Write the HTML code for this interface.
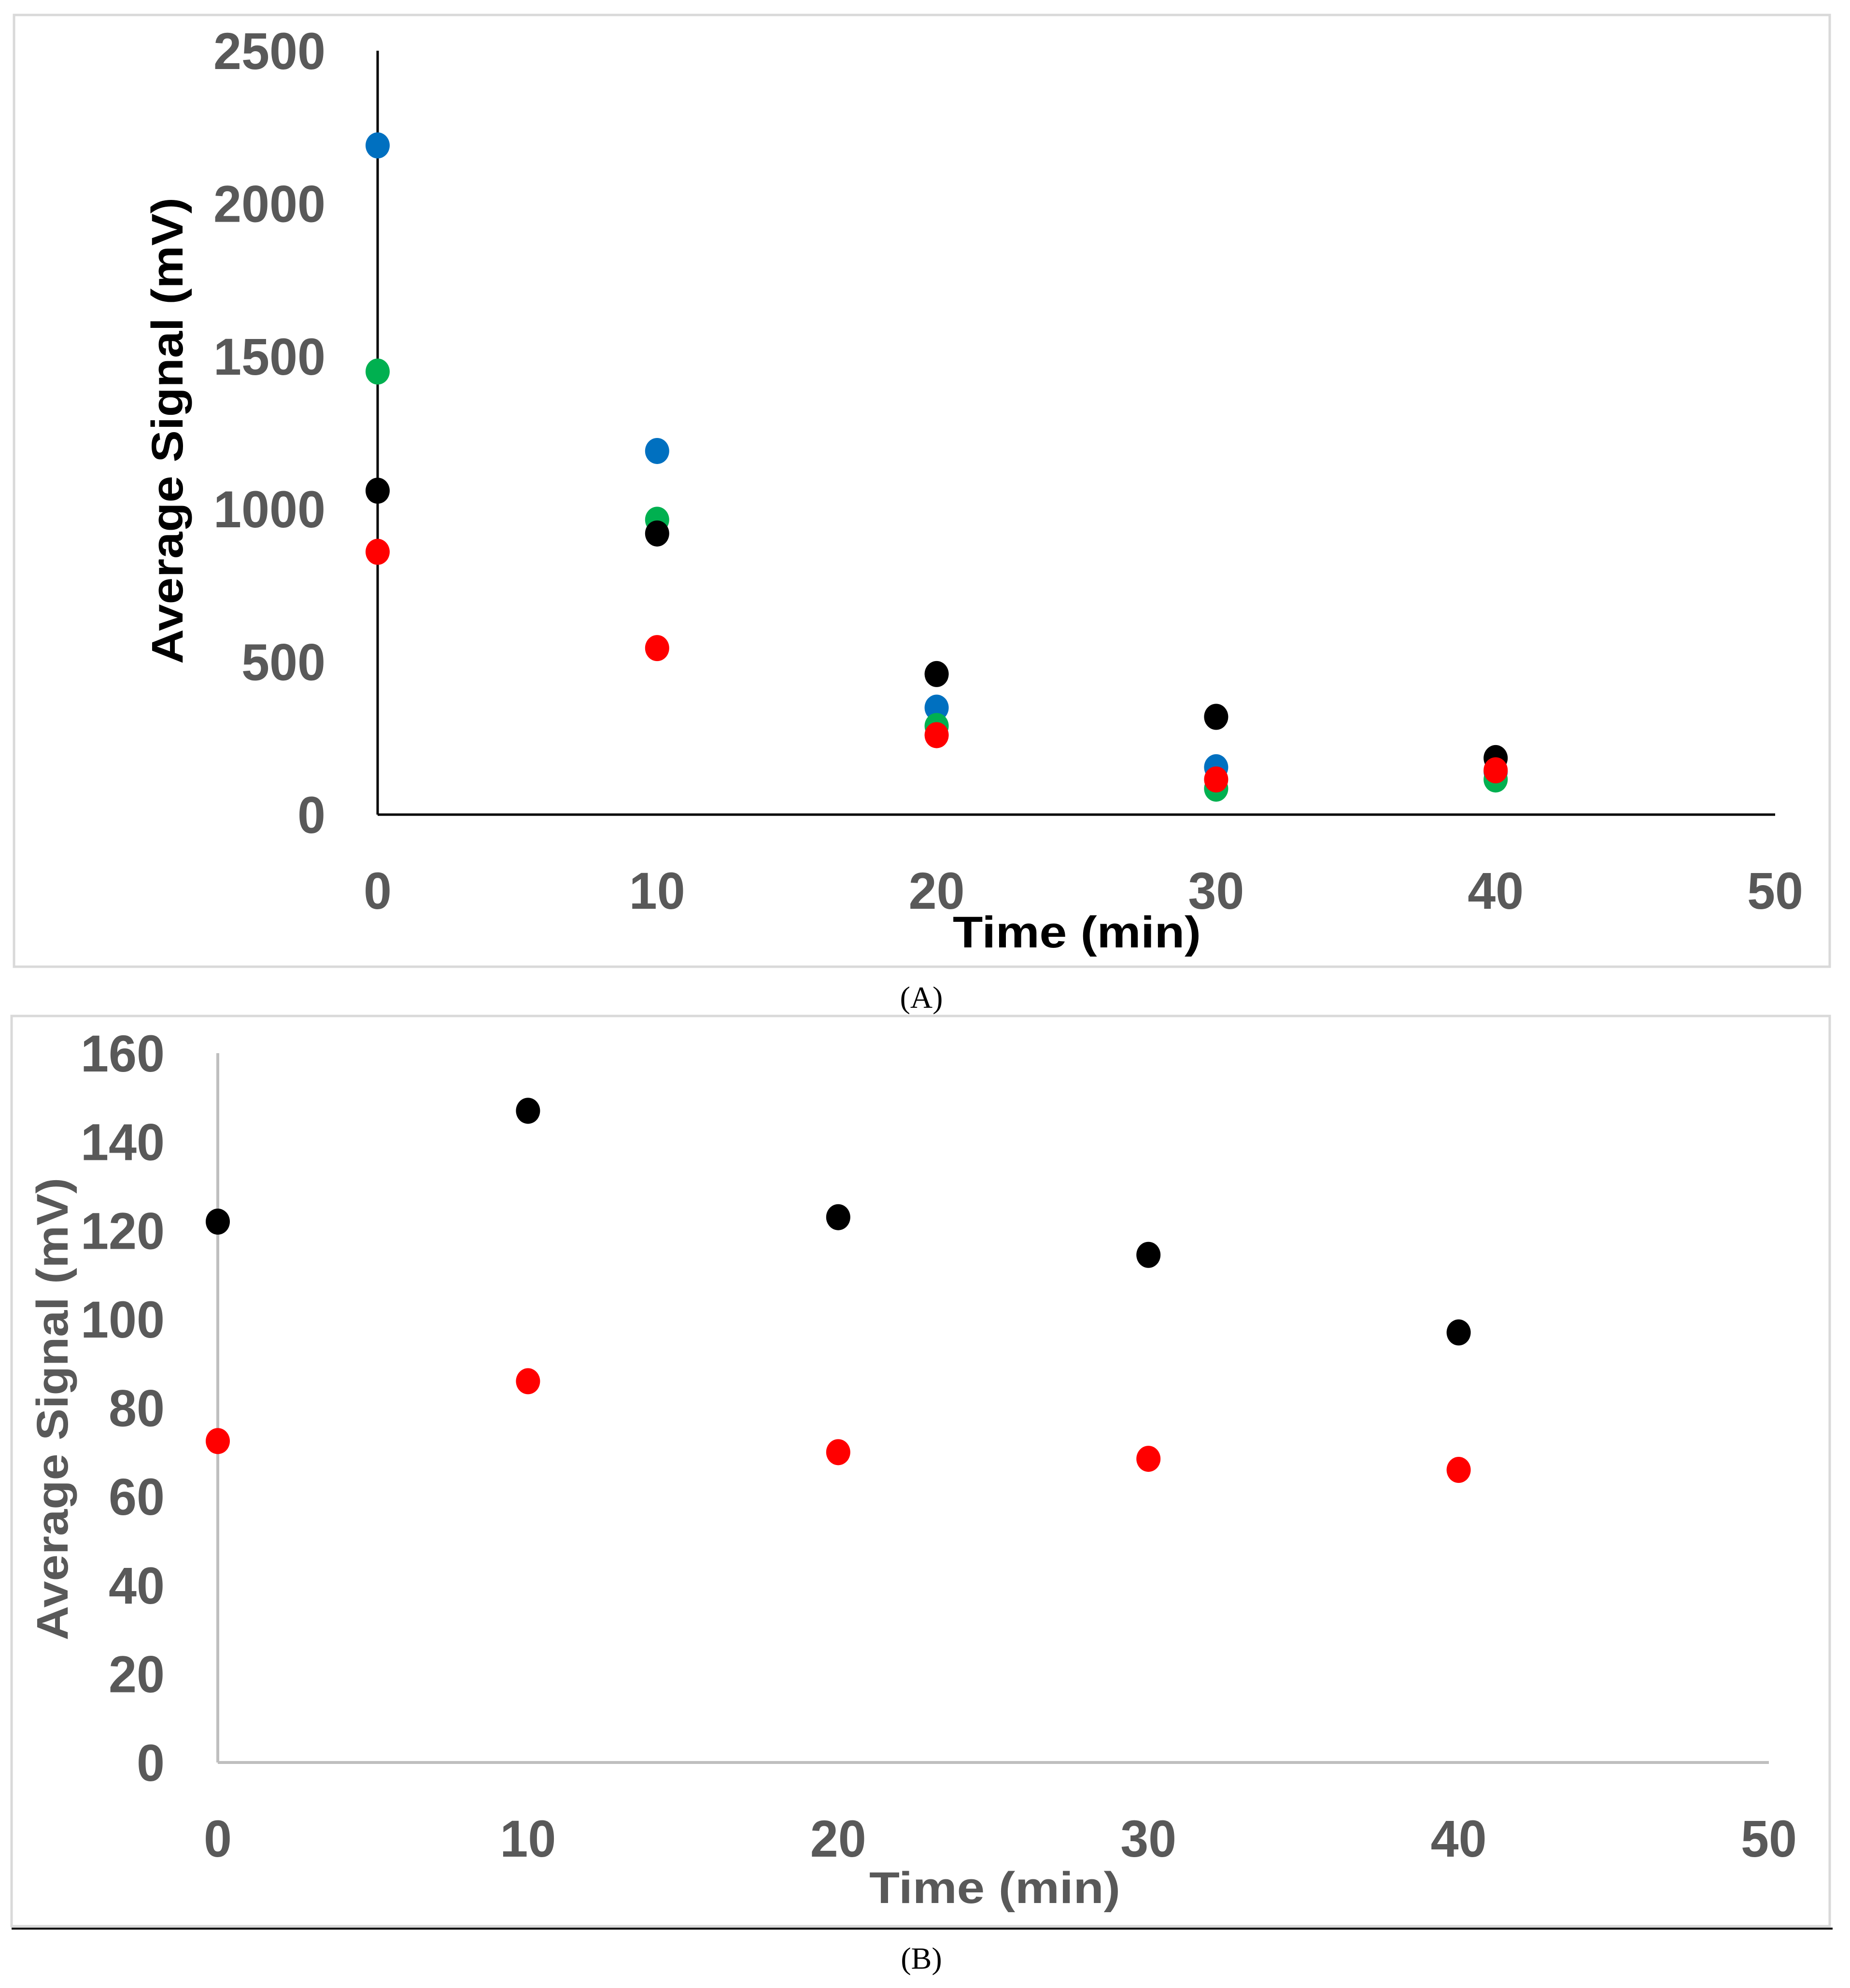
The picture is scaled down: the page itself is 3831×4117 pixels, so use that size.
<!DOCTYPE html>
<html><head><meta charset="utf-8"><style>
html,body{margin:0;padding:0;background:#fff}
svg{display:block}
.tk{font-family:"Liberation Sans",sans-serif;font-weight:bold;font-size:108px;fill:#595959}
.ttl{font-family:"Liberation Sans",sans-serif;font-weight:bold;font-size:92px}
.cap{font-family:"Liberation Serif",serif;font-size:64px;fill:#000}
</style></head><body>
<svg id="svg" width="3831" height="4117" viewBox="0 0 3831 4117" xmlns="http://www.w3.org/2000/svg">
<rect x="29" y="31" width="3760" height="1971" fill="#fff" stroke="#d9d9d9" stroke-width="5"/>
<rect x="24" y="2104" width="3765" height="1885" fill="#fff" stroke="#d9d9d9" stroke-width="5"/>
<line x1="24" y1="3994" x2="3795" y2="3994" stroke="#000" stroke-width="4"/>
<text class="cap" x="1908" y="2087" text-anchor="middle">(A)</text>
<text class="cap" x="1908" y="4077" text-anchor="middle">(B)</text>
<g id="chartA"></g>
<g id="chartB"></g>
</svg>
<script>
const xCats = [0, 10, 20, 30, 40];
const xTicks = [0, 10, 20, 30, 40, 50];
const aTicks = [0, 500, 1000, 1500, 2000, 2500];
const aBlue = [2190, 1190, 350, 155, 140];
const aGreen = [1450, 965, 290, 85, 115];
const aBlack = [1060, 920, 460, 320, 185];
const aRed = [860, 545, 260, 115, 145];
const bTicks = [0, 20, 40, 60, 80, 100, 120, 140, 160];
const bBlack = [122, 147, 123, 114.5, 97];
const bRed = [72.5, 86, 70, 68.5, 66];

const NS = "http://www.w3.org/2000/svg";
function mk(parent, tag, attrs){const e=document.createElementNS(NS,tag);for(const k in attrs)e.setAttribute(k,attrs[k]);parent.appendChild(e);return e;}

function chart(g, cfg){
  const sx = v => cfg.x0 + (v - 0) / 50 * (cfg.x50 - cfg.x0);
  const sy = v => cfg.y0 - v / cfg.ymax * (cfg.y0 - cfg.ytop);
  const ya = mk(g,'line',{x1:sx(0),y1:sy(cfg.ymax),x2:sx(0),y2:sy(0),stroke:cfg.axis,'stroke-width':cfg.aw});
  
  
  const xa = mk(g,'line',{x1:sx(0),y1:sy(0),x2:sx(50),y2:sy(0),stroke:cfg.axis,'stroke-width':cfg.aw});
  
  
  cfg.yt.forEach(t=>{
    const e=mk(g,'text',{class:'tk',x:cfg.ylx,y:sy(t)+38,'text-anchor':'end',textLength:String(t).length*58,lengthAdjust:'spacingAndGlyphs'});
    e.textContent=t;
    
    
  });
  xTicks.forEach(t=>{
    const e=mk(g,'text',{class:'tk',x:sx(t),y:cfg.xly,'text-anchor':'middle',textLength:String(t).length*58,lengthAdjust:'spacingAndGlyphs'});
    e.textContent=t;
    
    
  });
  const yt=mk(g,'text',{class:'ttl',fill:cfg.tc,transform:`translate(${cfg.ytx},${cfg.yty}) rotate(-90)`,'text-anchor':'middle',textLength:cfg.ytl,lengthAdjust:'spacingAndGlyphs'});
  yt.textContent='Average Signal (mV)';
  
  
  const xt=mk(g,'text',{class:'ttl',fill:cfg.tc,x:cfg.xtx,y:cfg.xty,'text-anchor':'middle',textLength:cfg.xtl,lengthAdjust:'spacingAndGlyphs'});
  xt.textContent='Time (min)';
  
  
  cfg.series.forEach(s=>{
    s.vals.forEach((v,i)=>{
      const c=mk(g,'ellipse',{cx:sx(xCats[i]),cy:sy(v),rx:25,ry:27,fill:s.color});
      
      
    });
  });
}
chart(document.getElementById('chartA'),{x0:782,x50:3676,y0:1687,ytop:105,ymax:2500,axis:'#000',aw:5,
  yt:aTicks,ylx:674,xly:1882,tc:'#000',ytx:378,yty:892,ytl:966,xtx:2230,xty:1962,xtl:514,
  series:[{name:'blue',vals:aBlue,color:'#0070c0'},{name:'green',vals:aGreen,color:'#00b050'},{name:'black',vals:aBlack,color:'#000'},{name:'red',vals:aRed,color:'#ff0000'}]});
chart(document.getElementById('chartB'),{x0:451,x50:3663,y0:3650,ytop:2181,ymax:160,axis:'#bfbfbf',aw:6,
  yt:bTicks,ylx:341,xly:3845,tc:'#595959',ytx:140,yty:2918,ytl:958,xtx:2060,xty:3941,xtl:520,
  series:[{name:'black',vals:bBlack,color:'#000'},{name:'red',vals:bRed,color:'#ff0000'}]});
</script>
</body></html>
